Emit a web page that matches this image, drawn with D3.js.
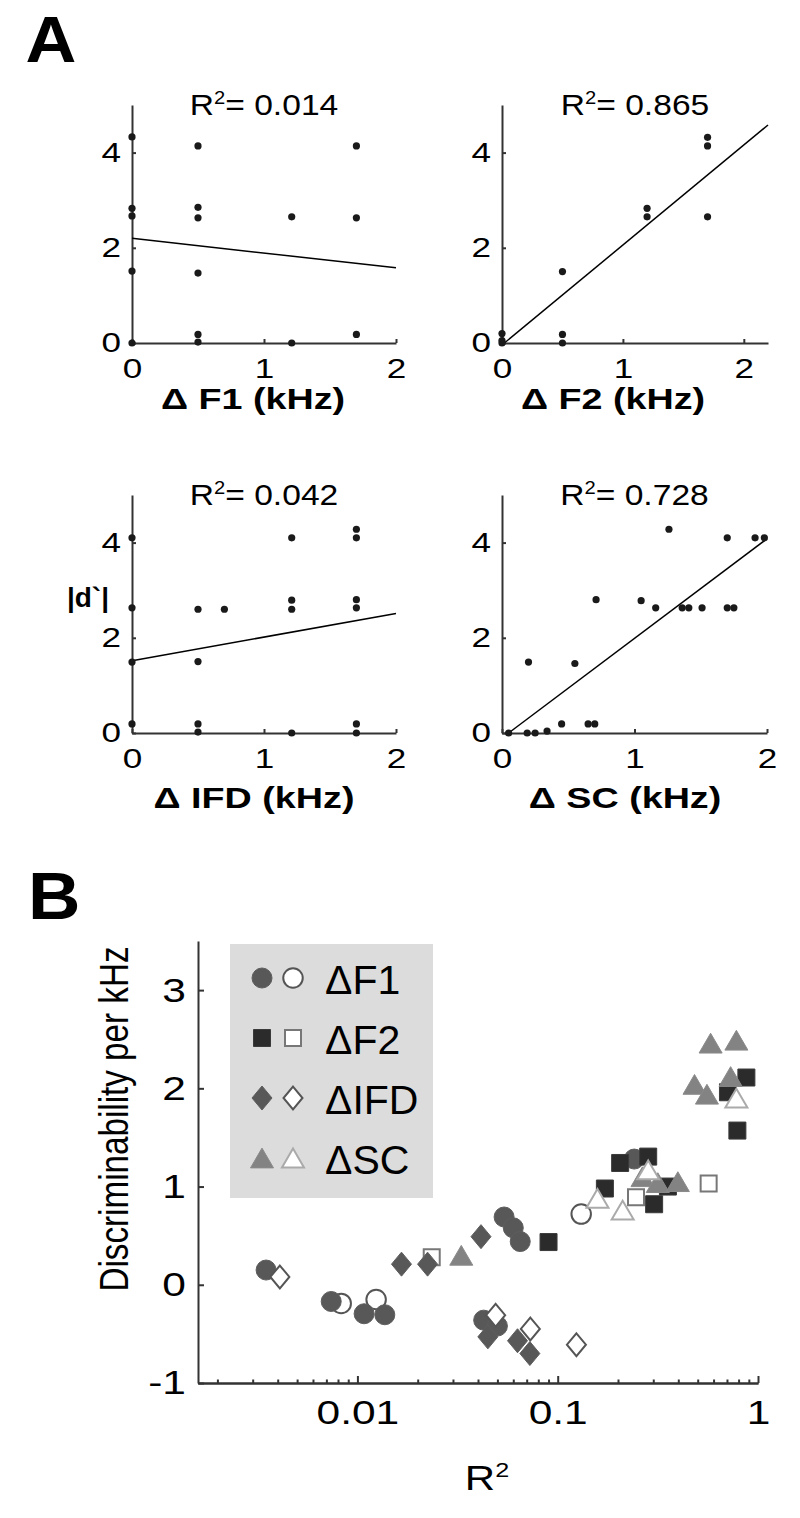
<!DOCTYPE html>
<html>
<head>
<meta charset="utf-8">
<script src="https://cdn.jsdelivr.net/npm/d3@7"></script>
<style>body{margin:0;background:#fff}</style>
</head>
<body>
<script>
// panel A: |d'| against the size of each feature change (kHz)
const f1Dots = [[0,4.33],[0,2.83],[0,2.67],[0,1.51],[0,0],[0.5,4.14],[0.5,2.85],[0.5,2.63],[0.5,1.47],[0.5,0.18],[0.5,0.02],[1.21,2.65],[1.21,0],[1.7,4.14],[1.7,2.63],[1.7,0.18]]
const f1Fit = [[0,2.2],[2,1.58]]
const f2Dots = [[0,0.2],[0,0.05],[0,0],[0.5,1.5],[0.5,0.18],[0.5,0],[1.2,2.83],[1.2,2.65],[1.7,4.32],[1.7,4.14],[1.7,2.65]]
const f2Fit = [[0.02,0],[2.2,4.58]]
const ifdDots = [[0,4.1],[0,2.63],[0,1.49],[0,0.19],[0.5,2.6],[0.5,1.5],[0.5,0.19],[0.5,0.02],[0.7,2.6],[1.21,4.1],[1.21,2.79],[1.21,2.6],[1.21,0],[1.7,4.28],[1.7,4.1],[1.7,2.8],[1.7,2.63],[1.7,0.19],[1.7,0]]
const ifdFit = [[0,1.52],[2,2.51]]
const scDots = [[0.05,0],[0.19,0],[0.25,0],[0.34,0.04],[0.45,0.19],[0.65,0.19],[0.7,0.19],[0.2,1.49],[0.55,1.46],[0.71,2.8],[1.05,2.78],[1.16,2.63],[1.36,2.63],[1.41,2.63],[1.51,2.63],[1.7,2.63],[1.75,2.63],[1.26,4.28],[1.7,4.1],[1.91,4.1],[1.98,4.1]]
const scFit = [[0.05,0],[2,4.08]]
const r2Text = ["0.014", "0.865", "0.042", "0.728"]
const aTicksX = [0, 1, 2]
const aTicksY = [0, 2, 4]

// panel B: discriminability per kHz against R^2 (filled / open markers)
const f1Filled = [[0.0035,0.15],[0.0074,-0.17],[0.0108,-0.295],[0.0137,-0.305],[0.054,0.69],[0.06,0.58],[0.065,0.44],[0.0427,-0.36],[0.05,-0.42],[0.241,1.28]]
const f1Open = [[0.0083,-0.19],[0.0124,-0.15],[0.131,0.72]]
const f2Filled = [[0.09,0.435],[0.172,0.98],[0.205,1.24],[0.283,1.305],[0.303,0.82],[0.355,1.0],[0.708,1.96],[0.875,2.11],[0.789,1.57]]
const f2Open = [[0.0235,0.28],[0.246,0.89],[0.567,1.03]]
const ifdFilled = [[0.0166,0.21],[0.0224,0.21],[0.0414,0.49],[0.0448,-0.53],[0.063,-0.57],[0.0726,-0.7]]
const ifdOpen = [[0.0041,0.08],[0.049,-0.31],[0.073,-0.45],[0.124,-0.61]]
const scFilled = [[0.033,0.3],[0.265,1.1],[0.316,1.04],[0.398,1.05],[0.482,2.04],[0.556,1.94],[0.58,2.46],[0.78,2.49],[0.73,2.12]]
const scOpen = [[0.158,0.88],[0.211,0.76],[0.283,1.17],[0.78,1.9]]
const legendNames = ["\u0394F1", "\u0394F2", "\u0394IFD", "\u0394SC"]
const bTicksY = [-1, 0, 1, 2, 3]
const bTicksX = [0.01, 0.1, 1]
const bMinorX = [0.002,0.003,0.004,0.005,0.006,0.007,0.008,0.009,0.02,0.03,0.04,0.05,0.06,0.07,0.08,0.09,0.2,0.3,0.4,0.5,0.6,0.7,0.8,0.9]

const FONT = "'Liberation Sans', Arial, Helvetica, sans-serif"
const AX = "#333"

const svg = d3.select("body").append("svg")
    .attr("width", 800)
    .attr("height", 1518)

// text is a bit wider in the original than Arial, so stretch it horizontally
function txt(g, x, y, s, size, opt = {}) {
    return g.append("text")
        .attr("transform", `translate(${x},${y}) scale(${opt.sx ?? 1.25},1)` + (opt.rot ? ` rotate(${opt.rot})` : ""))
        .attr("text-anchor", opt.anchor || "middle")
        .attr("font-family", FONT)
        .attr("font-size", size)
        .attr("font-weight", opt.bold ? "bold" : "normal")
        .attr("fill", "#000")
        .text(s)
}

function styleAxis(g, size, sx, width) {
    g.attr("font-family", FONT).attr("font-size", size)
    g.select(".domain").attr("stroke", AX).attr("stroke-width", width)
    g.selectAll(".tick line").attr("stroke", AX).attr("stroke-width", width)
    g.selectAll(".tick text").attr("fill", "#000").attr("transform", `scale(${sx},1)`)
}

// ---------------- panel A ----------------
txt(svg, 51, 62, "A", 64, {bold: true, sx: 1.1})

const panelsA = [
    {dots: f1Dots, fit: f1Fit, r2: r2Text[0], name: "\u0394 F1 (kHz)", left: 132, right: 396, xmax: 2, bottom: 343, lx: 253, ly: 409},
    {dots: f2Dots, fit: f2Fit, r2: r2Text[1], name: "\u0394 F2 (kHz)", left: 502, right: 768, xmax: 2.2, bottom: 343, lx: 613, ly: 409},
    {dots: ifdDots, fit: ifdFit, r2: r2Text[2], name: "\u0394 IFD (kHz)", left: 132, right: 396, xmax: 2, bottom: 733, lx: 254, ly: 808},
    {dots: scDots, fit: scFit, r2: r2Text[3], name: "\u0394 SC (kHz)", left: 502, right: 767, xmax: 2, bottom: 733, lx: 625, ly: 808}
]

panelsA.forEach((p) => {
    const x = d3.scaleLinear().domain([0, p.xmax]).range([p.left, p.right])
    const y = d3.scaleLinear().domain([0, 5]).range([p.bottom, p.bottom - 238])
    const g = svg.append("g")

    const xa = g.append("g")
        .attr("transform", `translate(0,${p.bottom})`)
        .call(d3.axisBottom(x).tickValues(aTicksX).tickSizeInner(-4).tickSizeOuter(0).tickPadding(16).tickFormat(d3.format("d")))
    styleAxis(xa, 27, 1.3, 2)
    const ya = g.append("g")
        .attr("transform", `translate(${p.left},0)`)
        .call(d3.axisLeft(y).tickValues(aTicksY).tickSizeInner(-4).tickSizeOuter(0).tickPadding(8.5).tickFormat(d3.format("d")))
    styleAxis(ya, 27, 1.3, 2)

    g.append("path")
        .datum(p.fit)
        .attr("d", d3.line().x((d) => x(d[0])).y((d) => y(d[1])))
        .attr("stroke", "#000")
        .attr("stroke-width", 1.5)
        .attr("fill", "none")

    g.selectAll("circle.dot")
        .data(p.dots)
        .join("circle")
        .attr("class", "dot")
        .attr("cx", (d) => x(d[0]))
        .attr("cy", (d) => y(d[1]))
        .attr("r", 3.6)
        .attr("fill", "#1a1a1a")

    const t = txt(g, (p.left + p.right) / 2, p.bottom - 228, "R", 30, {sx: 1.12})
    t.append("tspan").attr("dy", -11).attr("font-size", 18).text("2")
    t.append("tspan").attr("dy", 11).text("= " + p.r2)

    txt(g, p.lx, p.ly, p.name, 29, {bold: true, sx: 1.3})
})
txt(svg, 109, 607, "|d`|", 28, {bold: true, anchor: "end", sx: 1})

// ---------------- panel B ----------------
txt(svg, 28, 919, "B", 66, {bold: true, anchor: "start", sx: 1.1})

const xb = d3.scaleLog().domain([0.0016, 1]).range([198, 758])
const yb = d3.scaleLinear().domain([-1, 3.5]).range([1383, 941])
const gb = svg.append("g")

// legend box sits under the data
const lg = gb.append("g")
lg.append("rect")
    .attr("x", 230).attr("y", 944)
    .attr("width", 203).attr("height", 254)
    .attr("fill", "#dcdcdc")

const minorAxis = gb.append("g")
    .attr("transform", "translate(0,1383)")
    .call(d3.axisBottom(xb).tickValues(bMinorX).tickSizeInner(-3.5).tickSizeOuter(0).tickFormat(""))
styleAxis(minorAxis, 34, 1.25, 2)
const xbAxis = gb.append("g")
    .attr("transform", "translate(0,1383)")
    .call(d3.axisBottom(xb).tickValues(bTicksX).tickSizeInner(-7).tickSizeOuter(0).tickPadding(17).tickFormat((d) => String(d)))
styleAxis(xbAxis, 34, 1.25, 2)
const ybAxis = gb.append("g")
    .attr("transform", "translate(198,0)")
    .call(d3.axisLeft(yb).tickValues(bTicksY).tickSizeInner(-6).tickSizeOuter(0).tickPadding(9.6).tickFormat((d) => String(d)))
styleAxis(ybAxis, 34, 1.25, 2)

txt(svg, 128, 1119, "Discriminability per kHz", 40, {rot: -90, sx: 1})
    .attr("textLength", 345)
    .attr("lengthAdjust", "spacingAndGlyphs")
const rl = txt(svg, 487, 1490, "R", 35, {sx: 1.2})
rl.append("tspan").attr("dy", -13).attr("font-size", 21).text("2")

// marker outlines, centred on the data point
const shape = {
    circle: (s) => `M${-s / 2},0a${s / 2},${s / 2} 0 1,0 ${s},0a${s / 2},${s / 2} 0 1,0 ${-s},0Z`,
    square: (s) => `M${-s / 2},${-s / 2}h${s}v${s}h${-s}Z`,
    diamond: (s) => `M0,${-s * 0.6}L${s / 2},0L0,${s * 0.6}L${-s / 2},0Z`,
    triangle: (s) => `M0,${-s * 0.43}L${s / 2},${s * 0.43}L${-s / 2},${s * 0.43}Z`
}

const series = [
    {pts: f1Open, shape: "circle", size: 19.5, fill: "#fff", stroke: "#555", sw: 2},
    {pts: f1Filled, shape: "circle", size: 20, fill: "#585858", stroke: "#5e5e5e", sw: 1},
    {pts: f2Filled, shape: "square", size: 17, fill: "#2b2b2b", stroke: "#3a3a3a", sw: 1},
    {pts: f2Open, shape: "square", size: 16, fill: "#fff", stroke: "#777", sw: 2},
    {pts: ifdOpen, shape: "diamond", size: 19, fill: "#fff", stroke: "#555", sw: 2},
    {pts: ifdFilled, shape: "diamond", size: 20, fill: "#585858", stroke: "#5e5e5e", sw: 1},
    {pts: scFilled, shape: "triangle", size: 23, fill: "#838383", stroke: "#8a8a8a", sw: 1},
    {pts: scOpen, shape: "triangle", size: 22, fill: "#fff", stroke: "#aaa", sw: 2}
]

series.forEach((s) => {
    gb.append("g")
        .selectAll("path")
        .data(s.pts)
        .join("path")
        .attr("transform", (d) => `translate(${xb(d[0])},${yb(d[1])})`)
        .attr("d", shape[s.shape](s.size))
        .attr("fill", s.fill)
        .attr("stroke", s.stroke)
        .attr("stroke-width", s.sw)
})

// legend rows: filled marker, open marker, name
legendNames.forEach((name, i) => {
    const cy = 978 + i * 60
    const filled = series.filter((s) => s.fill !== "#fff")[i]
    const open = series.filter((s) => s.fill === "#fff")[i]
    lg.append("path")
        .attr("transform", `translate(262,${cy})`)
        .attr("d", shape[filled.shape](filled.size))
        .attr("fill", filled.fill).attr("stroke", filled.stroke).attr("stroke-width", filled.sw)
    lg.append("path")
        .attr("transform", `translate(293,${cy})`)
        .attr("d", shape[open.shape](open.size))
        .attr("fill", open.fill).attr("stroke", open.stroke).attr("stroke-width", open.sw)
    txt(lg, 325, cy + 16, name, 41, {anchor: "start", sx: 1.0})
})
</script>
</body>
</html>
